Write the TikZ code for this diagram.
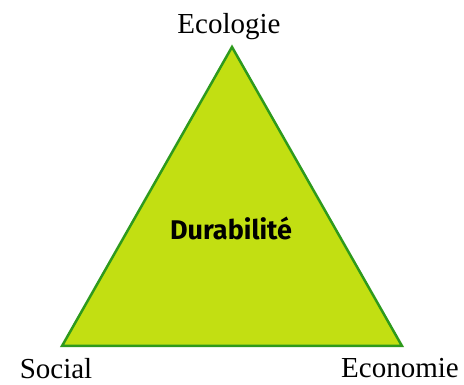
\documentclass[tikz,border=0pt]{standalone}
\usepackage{fontspec}
\setmainfont{Liberation Serif}
\newfontfamily\labelsans{Fira Sans}
\usetikzlibrary{positioning}
\definecolor{pillarfill}{HTML}{C2DF12}
\definecolor{pillarline}{HTML}{2E9A1C}
\tikzset{
  pillar/.style={font=\fontsize{29}{32}\selectfont, inner sep=0pt},
  centre/.style={font=\labelsans\bfseries\fontsize{27}{30}\selectfont, inner sep=0pt}
}

\begin{document}
\begin{tikzpicture}[x=1pt,y=-1pt]
\useasboundingbox (0,0) rectangle (464,385);
\coordinate (top) at (232,47);
\coordinate (left) at (62,346);
\coordinate (right) at (402,346);
	\filldraw[fill=pillarfill, draw=pillarline, line width=2.5pt, line join=miter] (top) -- (left) -- (right) -- cycle;

\node[pillar] (ecologie) at (229,27) {Ecologie};
\node[pillar] (social) at (56,369) {Social};
\node[pillar] (economie) at (400,368) {Economie};
\node[centre] (durabilite) at (231,228) {Durabilité};
\end{tikzpicture}
\end{document}
